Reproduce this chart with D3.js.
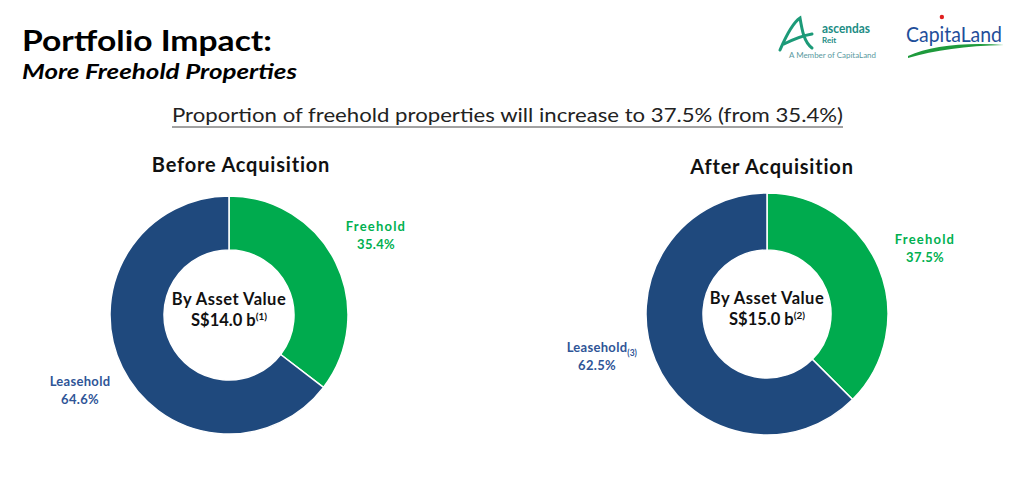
<!DOCTYPE html>
<html>
<head>
<meta charset="utf-8">
<script src="https://cdn.jsdelivr.net/npm/d3@7"></script>
<style>
  html, body { margin: 0; padding: 0; background: #fff; }
  svg { display: block; }
  text { font-family: "Lato", "Open Sans", sans-serif; }
</style>
</head>
<body>
<svg id="chart" width="1024" height="491"></svg>
<script>
const categories = ["Freehold", "Leasehold"];
const beforeValues = [35.4, 64.6];
const afterValues = [37.5, 62.5];
const panelTitles = ["Before Acquisition", "After Acquisition"];
const centerLines = [["By Asset Value", "S$14.0 b", "(1)"], ["By Asset Value", "S$15.0 b", "(2)"]];
const labelNotes = [["", ""], ["", "(3)"]];

const colors = { Freehold: "#00AB4E", Leasehold: "#1F497D" };
const labelColors = { Freehold: "#00B050", Leasehold: "#2F5597" };
const labelSpacing = { Freehold: 1.2, Leasehold: 0.3 };

const svg = d3.select("#chart");

// Header
svg.append("text").attr("x", 22).attr("y", 51)
  .attr("font-size", 29).attr("font-weight", 700).attr("fill", "#000")
  .attr("textLength", 250).attr("lengthAdjust", "spacingAndGlyphs")
  .text("Portfolio Impact:");
svg.append("text").attr("x", 22).attr("y", 79)
  .attr("font-size", 21).attr("font-weight", 700).attr("font-style", "italic").attr("fill", "#000")
  .attr("textLength", 275).attr("lengthAdjust", "spacingAndGlyphs")
  .text("More Freehold Properties");

// Subheading with underline
svg.append("text").attr("x", 172).attr("y", 122)
  .attr("font-size", 20).attr("fill", "#222")
  .attr("textLength", 671).attr("lengthAdjust", "spacingAndGlyphs")
  .text("Proportion of freehold properties will increase to 37.5% (from 35.4%)");
svg.append("line").attr("x1", 172).attr("x2", 843).attr("y1", 127).attr("y2", 127)
  .attr("stroke", "#444").attr("stroke-width", 1);

// Logos (simplified)
const logo = svg.append("g");
logo.append("path")
  .attr("d", "M780,50 C786,36 794,22 800,18 C802,30 804,42 812,48 M784,44 C792,40 800,36 812,34")
  .attr("fill", "none").attr("stroke", "#1C9A78").attr("stroke-width", 3).attr("stroke-linecap", "round");
logo.append("text").attr("x", 822).attr("y", 33).attr("font-size", 13).attr("font-weight", 700)
  .attr("fill", "#1C8C84").attr("textLength", 48).attr("lengthAdjust", "spacingAndGlyphs").text("ascendas");
logo.append("text").attr("x", 822).attr("y", 43).attr("font-size", 8).attr("font-weight", 700)
  .attr("fill", "#1C8C84").text("Reit");
logo.append("text").attr("x", 789).attr("y", 58).attr("font-size", 7.5)
  .attr("fill", "#5A9AA0").attr("textLength", 87).attr("lengthAdjust", "spacingAndGlyphs")
  .text("A Member of CapitaLand");
const cap = logo.append("text").attr("x", 906).attr("y", 42).attr("font-size", 22)
  .attr("fill", "#1F4E9A").attr("textLength", 96).attr("lengthAdjust", "spacingAndGlyphs")
  .attr("font-family", "Liberation Sans Narrow, Roboto, sans-serif").text("CapitaLand");
logo.append("path").attr("d", "M908,56 C930,46 965,42 1004,45 C965,46 935,50 908,58 Z")
  .attr("fill", "#1E9A3C");
let dotX = 943;
try { const pt = cap.node().getStartPositionOfChar(3); const ex = cap.node().getExtentOfChar(3); dotX = ex.x + ex.width / 2; } catch (e) {}
logo.append("circle").attr("cx", dotX).attr("cy", 17).attr("r", 2.2).attr("fill", "#E02020");

// Donuts
const panels = [
  { values: beforeValues, cx: 229, cy: 315, r: 119, ir: 65, titleX: 241, titleY: 172,
    labels: { Freehold: [376, 231], Leasehold: [80, 386] } },
  { values: afterValues, cx: 767, cy: 314, r: 121, ir: 64, titleX: 772, titleY: 174,
    labels: { Freehold: [925, 244], Leasehold: [597, 352] } }
];

const pie = d3.pie().sort(null).value(d => d.value);

panels.forEach((p, i) => {
  const data = categories.map((c, j) => ({ cat: c, value: p.values[j] }));
  const arc = d3.arc().innerRadius(p.ir).outerRadius(p.r);
  const g = svg.append("g").attr("transform", `translate(${p.cx},${p.cy})`);
  g.selectAll("path").data(pie(data)).join("path")
    .attr("d", arc)
    .attr("fill", d => colors[d.data.cat])
    .attr("stroke", "#fff").attr("stroke-width", 1.5);

  // center text
  g.append("text").attr("x", 0).attr("y", -10).attr("text-anchor", "middle")
    .attr("font-size", 16.5).attr("font-weight", 700).attr("fill", "#111")
    .attr("letter-spacing", 0.5)
    .text(centerLines[i][0]);
  const t2 = g.append("text").attr("x", 0).attr("y", 11).attr("text-anchor", "middle")
    .attr("font-size", 16.5).attr("font-weight", 700).attr("fill", "#111");
  t2.append("tspan").text(centerLines[i][1]);
  t2.append("tspan").attr("dy", -6).attr("font-size", 10).text(centerLines[i][2]);

  // panel title
  svg.append("text").attr("x", p.titleX).attr("y", p.titleY).attr("text-anchor", "middle")
    .attr("font-size", 20).attr("font-weight", 700).attr("fill", "#111")
    .attr("letter-spacing", 0.8)
    .text(panelTitles[i]);

  // labels
  data.forEach((d, j) => {
    const [lx, ly] = p.labels[d.cat];
    const lt = svg.append("text").attr("x", lx).attr("y", ly).attr("text-anchor", "middle")
      .attr("font-size", 13).attr("font-weight", 700).attr("fill", labelColors[d.cat])
      .attr("letter-spacing", labelSpacing[d.cat])
      .text(d.cat);
    svg.append("text").attr("x", lx).attr("y", ly + 18).attr("text-anchor", "middle")
      .attr("font-size", 13).attr("font-weight", 700).attr("fill", labelColors[d.cat])
      .attr("letter-spacing", 0.3)
      .text(d.value.toFixed(1) + "%");
    const note = labelNotes[i][j];
    if (note) {
      const w = lt.node().getComputedTextLength();
      svg.append("text").attr("x", lx + w / 2).attr("y", ly + 4)
        .attr("font-size", 8.5).attr("font-weight", 700).attr("fill", labelColors[d.cat])
        .text(note);
    }
  });
});
</script>
</body>
</html>
